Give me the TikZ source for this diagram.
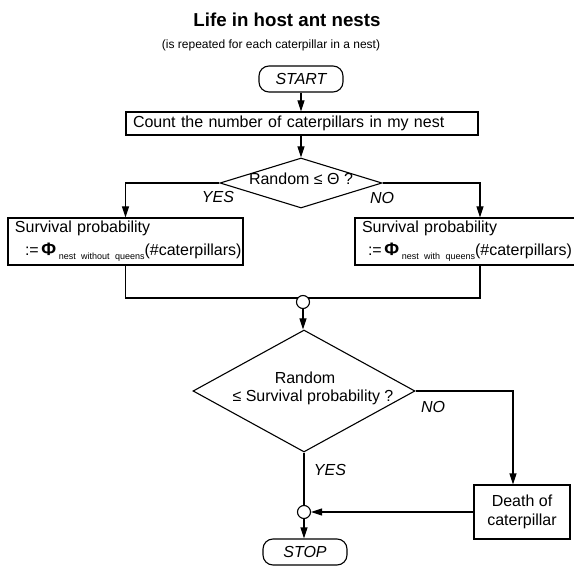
\documentclass[tikz,border=0pt]{standalone}
\usepackage{fontspec}
\setmainfont{Liberation Sans}
\usetikzlibrary{arrows.meta,shapes.geometric}
\begin{document}
\begin{tikzpicture}[x=1pt,y=-1pt,line width=1.1pt,
  >={Triangle[length=11pt,width=7pt]},
  txt/.style={font=\fontsize{16}{19}\selectfont},
  box/.style={draw,rectangle,inner sep=0pt,txt},
  term/.style={draw,rounded corners=10pt,minimum width=84pt,minimum height=26pt,
    inner sep=0pt,font=\fontsize{16}{19}\selectfont\itshape},
  decision/.style={draw,diamond,inner sep=0pt},
  junction/.style={draw,circle,fill=white,minimum size=13pt,inner sep=0pt},
  lbl/.style={inner sep=0pt,font=\fontsize{16}{19}\selectfont\itshape}]
\useasboundingbox (0,0) rectangle (574,567);

% headings
\node[font=\fontsize{18.7}{22}\selectfont\bfseries] (title) at (287,20) {Life in host ant nests};
\node[font=\fontsize{12}{14}\selectfont] (subtitle) at (271,45) {(is repeated for each caterpillar in a nest)};

% flow elements
\node[term] (start) at (301,79) {START};
\node[box,minimum width=352pt,minimum height=23pt,text width=338pt,inner xsep=7pt,align=left]
  (count) at (302,123.5) {Count the number of caterpillars in my nest};
\node[decision,minimum width=162pt,minimum height=50pt] (d1) at (301,183) {};
\node[txt,inner sep=0pt] (d1t) at (301,179) {Random ≤ Θ ?};
\node[lbl] (yes1) at (218,197) {YES};
\node[lbl] (no1) at (382,198) {NO};

\node[box,minimum width=235pt,minimum height=47pt,text width=221pt,inner xsep=7pt,align=left,
  font=\fontsize{16}{23}\selectfont] (sl) at (125.5,241.5)
  {Survival probability\\\hspace*{10pt}:=\,{\fontsize{18}{19}\selectfont\bfseries Φ}\,\raisebox{-4pt}{\fontsize{9}{10}\selectfont nest without queens}(\#caterpillars)};
\node[box,minimum width=220pt,minimum height=47pt,text width=206pt,inner xsep=7pt,align=left,
  font=\fontsize{16}{23}\selectfont] (sr) at (465,241.5)
  {Survival probability\\\hspace*{6pt}:=\,{\fontsize{18}{19}\selectfont\bfseries Φ}\,\raisebox{-4pt}{\fontsize{9}{10}\selectfont nest with queens}(\#caterpillars)};
\coordinate (rj) at (480,241.5);

\node[decision,minimum width=222pt,minimum height=122pt] (d2) at (304,391) {};
\node[txt,inner sep=0pt] (d2a) at (305,378) {Random};
\node[txt,inner sep=0pt] (d2b) at (313,397) {≤ Survival probability ?};
\node[lbl] (no2) at (433,407) {NO};
\node[lbl] (yes2) at (330,470) {YES};
\node[box,minimum width=96pt,minimum height=54pt,align=center] (death) at (522,512) {Death of\\caterpillar};
\coordinate (dj) at (513,512);
\node[term] (stop) at (305,552) {STOP};

% connectors
\draw[->] (start.south) -- (start.south |- count.north);
\draw[->] (d1.north |- count.south) -- (d1.north);
\draw[->] (d1.west) -| (sl.north);
\draw[->] (d1.east) -| (rj |- sr.north);
\draw (sl.south) |- (303,298);
\draw (rj |- sr.south) |- (303,298);
\node[junction] (c1) at (303,302) {};
\draw[->] (c1.south) -- (c1.south |- d2.north);
\draw[->] (d2.east) -| (dj |- death.north);
\node[junction] (c2) at (304,512) {};
\draw (d2.south) -- (d2.south |- c2.north);
\draw[->] (death.west) -- (c2.east);
\draw[->] (c2.south) -- (c2.south |- stop.north);
\end{tikzpicture}
\end{document}
